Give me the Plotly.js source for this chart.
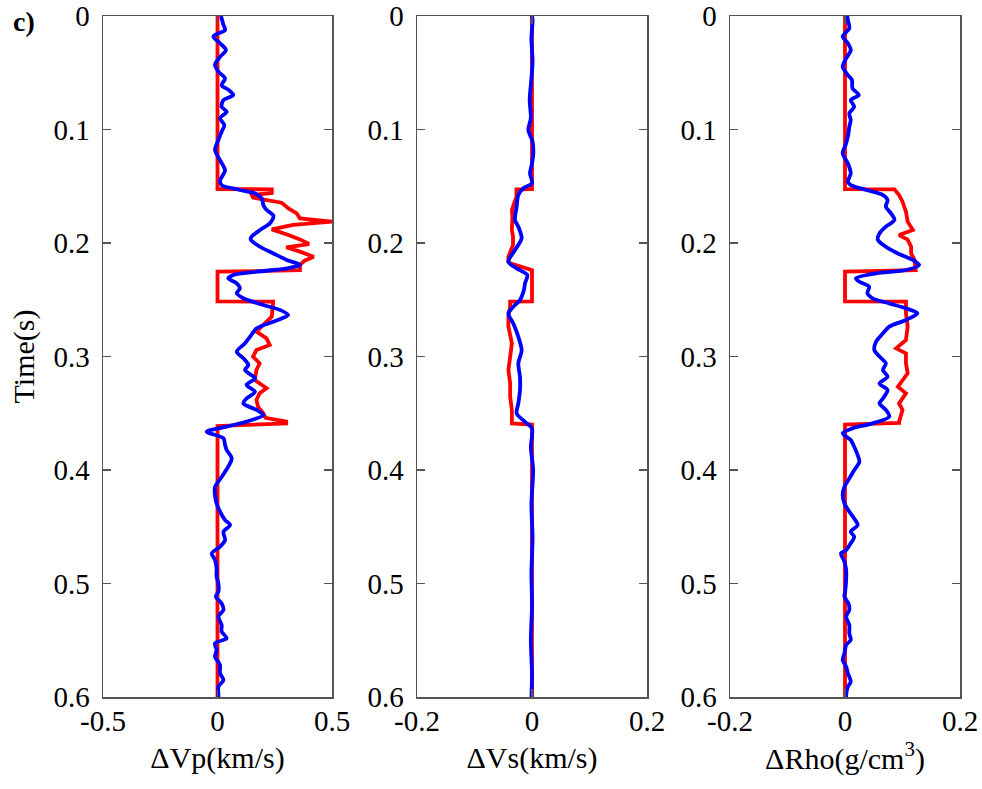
<!DOCTYPE html>
<html>
<head>
<meta charset="utf-8">
<script src="https://cdn.plot.ly/plotly-3.0.1.min.js"></script>
<style>html,body{margin:0;padding:0;background:#fff;}#chart{width:982px;height:789px;}</style>
</head>
<body>
<div id="chart"></div>
<script>
// ---------- DATA ----------
// ΔVp model (red) and inversion (blue)
const tVpModel = [0,0.1525,0.1527,0.156,0.1577,0.1600,0.1615,0.1645,0.1695,0.1739,0.1783,0.1812,0.1841,0.188,0.193,0.1968,0.2009,0.2038,0.2076,0.2121,0.2156,0.2194,0.2240,0.2253,0.2515,0.2517,0.2649,0.2722,0.2781,0.284,0.2899,0.2943,0.3001,0.306,0.3119,0.3207,0.328,0.3324,0.3383,0.3442,0.35,0.354,0.3574,0.359,0.3612,0.6];
const vpModel  = [0,0,0.237,0.237,0.15,0.155,0.198,0.28,0.31,0.346,0.36,0.50,0.33,0.237,0.31,0.36,0.40,0.30,0.36,0.42,0.38,0.36,0.36,0,0,0.243,0.237,0.2,0.17,0.214,0.228,0.17,0.155,0.184,0.17,0.163,0.214,0.184,0.17,0.177,0.2,0.21,0.30,0.30,0,0];
const tVpInv = [0,0.0021,0.0079,0.0123,0.018,0.024,0.030,0.036,0.043,0.049,0.055,0.061,0.065,0.0696,0.074,0.080,0.0843,0.090,0.096,0.102,0.109,0.118,0.127,0.136,0.145,0.149,0.1533,0.1563,0.1606,0.1665,0.171,0.176,0.1826,0.1885,0.1944,0.197,0.2033,0.2092,0.2149,0.2194,0.2223,0.2253,0.2282,0.2311,0.2355,0.2399,0.2443,0.2487,0.2546,0.259,0.2634,0.2693,0.2752,0.2826,0.2884,0.2958,0.3016,0.3075,0.3119,0.3192,0.3251,0.331,0.3369,0.3413,0.3471,0.3515,0.3574,0.3618,0.3662,0.3721,0.378,0.3824,0.3897,0.3971,0.4062,0.415,0.4222,0.4295,0.4367,0.4441,0.4485,0.4544,0.4617,0.4676,0.4734,0.4793,0.4866,0.494,0.4999,0.5072,0.5116,0.5175,0.5233,0.5292,0.5366,0.5424,0.5483,0.5527,0.5586,0.5645,0.5718,0.5791,0.585,0.5909,0.5982,0.6];
const vpInv  = [0.015,0.018,0.026,0.033,-0.018,0.011,0.037,0.011,-0.011,0.004,0.033,0.018,0.047,0.069,0.026,0.018,0.040,0.011,0.030,0.018,0.004,-0.011,0.011,0.033,0.011,0.018,0.098,0.164,0.193,0.200,0.215,0.244,0.229,0.186,0.149,0.145,0.186,0.244,0.302,0.360,0.302,0.171,0.069,0.047,0.084,0.098,0.084,0.113,0.200,0.273,0.309,0.244,0.171,0.142,0.120,0.084,0.113,0.135,0.120,0.164,0.127,0.164,0.127,0.113,0.171,0.200,0.127,0.040,-0.047,0.026,0.033,0.040,0.062,0.047,0.018,-0.011,-0.011,-0.004,0.011,0.033,0.055,0.026,0.033,0.011,-0.025,-0.011,-0.004,-0.004,0.004,0.004,-0.007,0.018,0.026,0.004,0.018,0.018,0.040,-0.011,-0.004,-0.011,0.011,0.011,0.026,0.004,0.004,0.004];

// ΔVs model (red) and inversion (blue)
const tVsModel = [0,0.1525,0.1527,0.1592,0.171,0.1768,0.1885,0.1944,0.2018,0.2121,0.2165,0.2180,0.2240,0.2253,0.2515,0.2517,0.2560,0.2648,0.2737,0.2884,0.3001,0.3119,0.3236,0.3354,0.3471,0.3574,0.3590,0.3600,0.6];
const vsModel  = [0,0,-0.027,-0.027,-0.035,-0.034,-0.035,-0.033,-0.033,-0.041,-0.041,-0.038,0,0,0,-0.038,-0.038,-0.041,-0.041,-0.035,-0.038,-0.041,-0.038,-0.038,-0.035,-0.035,-0.035,0,0];
const tVsInv = [0,0.004,0.02,0.04,0.055,0.074,0.09,0.1004,0.1107,0.121,0.1298,0.1386,0.1474,0.1518,0.1577,0.168,0.1797,0.1856,0.1959,0.2062,0.2165,0.2224,0.2282,0.2356,0.2415,0.2503,0.2562,0.2621,0.2709,0.2826,0.2944,0.3061,0.3179,0.3296,0.3414,0.3502,0.3575,0.3634,0.38,0.4,0.43,0.46,0.49,0.52,0.55,0.58,0.6];
const vsInv  = [0,0.001,-0.001,0.001,-0.001,-0.004,-0.002,-0.0064,0.001,0.0023,0,-0.0035,0,-0.015,-0.0238,-0.0267,-0.0296,-0.0238,-0.018,-0.0296,-0.0412,-0.0267,-0.0081,-0.0122,-0.014,-0.0209,-0.0325,-0.0412,-0.0325,-0.0238,-0.018,-0.0238,-0.0209,-0.0209,-0.0238,-0.0267,-0.0122,0,-0.002,0.002,-0.001,0.001,-0.001,0.000,-0.002,0.000,-0.001];

// ΔRho model (red) and inversion (blue)
const tRhoModel = [0,0.1525,0.1527,0.1577,0.1636,0.1724,0.1812,0.1885,0.193,0.197,0.2033,0.2092,0.2149,0.2223,0.2240,0.2253,0.2515,0.2517,0.2619,0.2737,0.2855,0.2928,0.2972,0.3061,0.3148,0.3266,0.3324,0.3413,0.3471,0.3574,0.3586,0.3600,0.6];
const rhoModel  = [0,0,0.086,0.094,0.100,0.106,0.109,0.118,0.094,0.109,0.115,0.115,0.121,0.123,0.123,0,0,0.106,0.106,0.109,0.106,0.089,0.106,0.106,0.109,0.092,0.106,0.094,0.100,0.094,0.094,0,0];
const tRhoInv = [0,0.0035,0.0109,0.018,0.024,0.030,0.0373,0.0446,0.052,0.0564,0.0637,0.0696,0.074,0.0799,0.0858,0.0916,0.0975,0.1034,0.1122,0.121,0.1298,0.1386,0.146,0.149,0.1533,0.1577,0.1621,0.168,0.1739,0.1797,0.1856,0.1915,0.197,0.2033,0.2092,0.2149,0.2194,0.2238,0.2267,0.2311,0.2341,0.2385,0.2443,0.2487,0.2532,0.2576,0.2619,0.2678,0.2737,0.2796,0.287,0.2943,0.3001,0.306,0.3119,0.3178,0.3237,0.3296,0.3369,0.3413,0.3471,0.353,0.3589,0.3633,0.3677,0.3736,0.3795,0.3868,0.3927,0.4001,0.4074,0.4148,0.4221,0.4295,0.4367,0.4427,0.4485,0.4544,0.4588,0.4646,0.4705,0.4734,0.4808,0.4881,0.4969,0.5057,0.5116,0.5175,0.5233,0.5292,0.5366,0.5439,0.5498,0.5542,0.5615,0.5674,0.5733,0.5791,0.5865,0.5909,0.5982,0.6];
const rhoInv  = [0.004,0.005,0.0075,-0.004,0.005,0.010,0.002,-0.004,0.005,0.012,0.013,0.024,0.010,0.016,0.0075,0.010,0.0075,0.006,0.002,-0.004,0.005,0.010,0.005,0.010,0.037,0.066,0.074,0.071,0.080,0.086,0.071,0.060,0.057,0.071,0.092,0.118,0.129,0.106,0.054,0.019,0.025,0.042,0.039,0.048,0.077,0.106,0.126,0.106,0.077,0.066,0.054,0.051,0.060,0.071,0.066,0.074,0.060,0.074,0.066,0.060,0.071,0.077,0.048,0.013,-0.004,0.010,0.016,0.022,0.025,0.016,0.0075,-0.001,-0.004,-0.001,0.0075,0.016,0.022,0.010,0.016,0.010,0.002,-0.007,-0.001,0.002,0.002,0.0006,-0.001,0.006,0.0075,0.002,0.0075,0.0075,0.010,0.002,-0.001,-0.004,0.002,0.005,0.010,0.005,0.002,0.002];

// Tick values / labels
const timeTicks = [0,0.1,0.2,0.3,0.4,0.5,0.6];
const timeLabels = ["0","0.1","0.2","0.3","0.4","0.5","0.6"];
const vpTicks = [-0.5,0,0.5];
const vpLabels = ["-0.5","0","0.5"];
const smallTicks = [-0.2,0,0.2];
const smallLabels = ["-0.2","0","0.2"];
const axisTitles = ["ΔVp(km/s)","ΔVs(km/s)","ΔRho(g/cm<sup>3</sup>)"];

// ---------- CHART ----------
const RED = '#ff0000', BLUE = '#0000ff';
const FONT = 'Liberation Serif';
function line(x, y, color, ax, smooth) {
  const ln = {color: color, width: 3.8};
  if (smooth) { ln.shape = 'spline'; ln.smoothing = 0.8; }
  return {x: x, y: y, type: 'scatter', mode: 'lines', xaxis: 'x' + ax, yaxis: 'y' + ax,
          line: ln, hoverinfo: 'skip', showlegend: false};
}
const traces = [
  line(vpModel, tVpModel, RED, ''), line(vpInv, tVpInv, BLUE, '', true),
  line(vsModel, tVsModel, RED, '2'), line(vsInv, tVsInv, BLUE, '2', true),
  line(rhoModel, tRhoModel, RED, '3'), line(rhoInv, tRhoInv, BLUE, '3', true)
];

const W = 982;
const domains = [[103/W, 332/W], [417/W, 647/W], [730/W, 960/W]];
function xax(i, range, tv, tt) {
  return {domain: domains[i], range: range, tickvals: tv, ticktext: tt,
    anchor: i === 0 ? 'y' : 'y' + (i + 1),
    ticks: 'inside', ticklen: 8, tickwidth: 1.5, tickcolor: '#555',
    showline: true, linecolor: '#555', linewidth: 1.5, mirror: 'ticks',
    showgrid: false, zeroline: false, ticklabelstandoff: -2,
    tickfont: {family: FONT, size: 29, color: '#000'},
    title: {text: axisTitles[i], font: {family: FONT, size: 30, color: '#000'}, standoff: 10}};
}
function yax(i) {
  const a = {domain: [0, 1], range: [0.6, 0], tickvals: timeTicks, ticktext: timeLabels,
    anchor: i === 0 ? 'x' : 'x' + (i + 1),
    ticks: 'inside', ticklen: 8, tickwidth: 1.5, tickcolor: '#555',
    showline: true, linecolor: '#555', linewidth: 1.5, mirror: 'ticks',
    showgrid: false, zeroline: false, ticklabelstandoff: 6,
    tickfont: {family: FONT, size: 29, color: '#000'}};
  if (i === 0) a.title = {text: 'Time(s)', font: {family: FONT, size: 30, color: '#000'}, standoff: 10};
  return a;
}
const layout = {
  width: 982, height: 789,
  margin: {l: 0, r: 0, t: 16, b: 92, pad: 0},
  paper_bgcolor: '#fff', plot_bgcolor: '#fff',
  font: {family: FONT},
  showlegend: false,
  xaxis: xax(0, [-0.5, 0.5], vpTicks, vpLabels),
  xaxis2: xax(1, [-0.2, 0.2], smallTicks, smallLabels),
  xaxis3: xax(2, [-0.2, 0.2], smallTicks, smallLabels),
  yaxis: yax(0), yaxis2: yax(1), yaxis3: yax(2),
  annotations: [{text: '<b>c)</b>', xref: 'paper', yref: 'paper', x: 24/W, y: 1 - 6/681,
    xanchor: 'center', yanchor: 'middle', showarrow: false,
    font: {family: FONT, size: 28, color: '#000'}}]
};
Plotly.newPlot('chart', traces, layout, {displayModeBar: false, staticPlot: true});
</script>
</body>
</html>
